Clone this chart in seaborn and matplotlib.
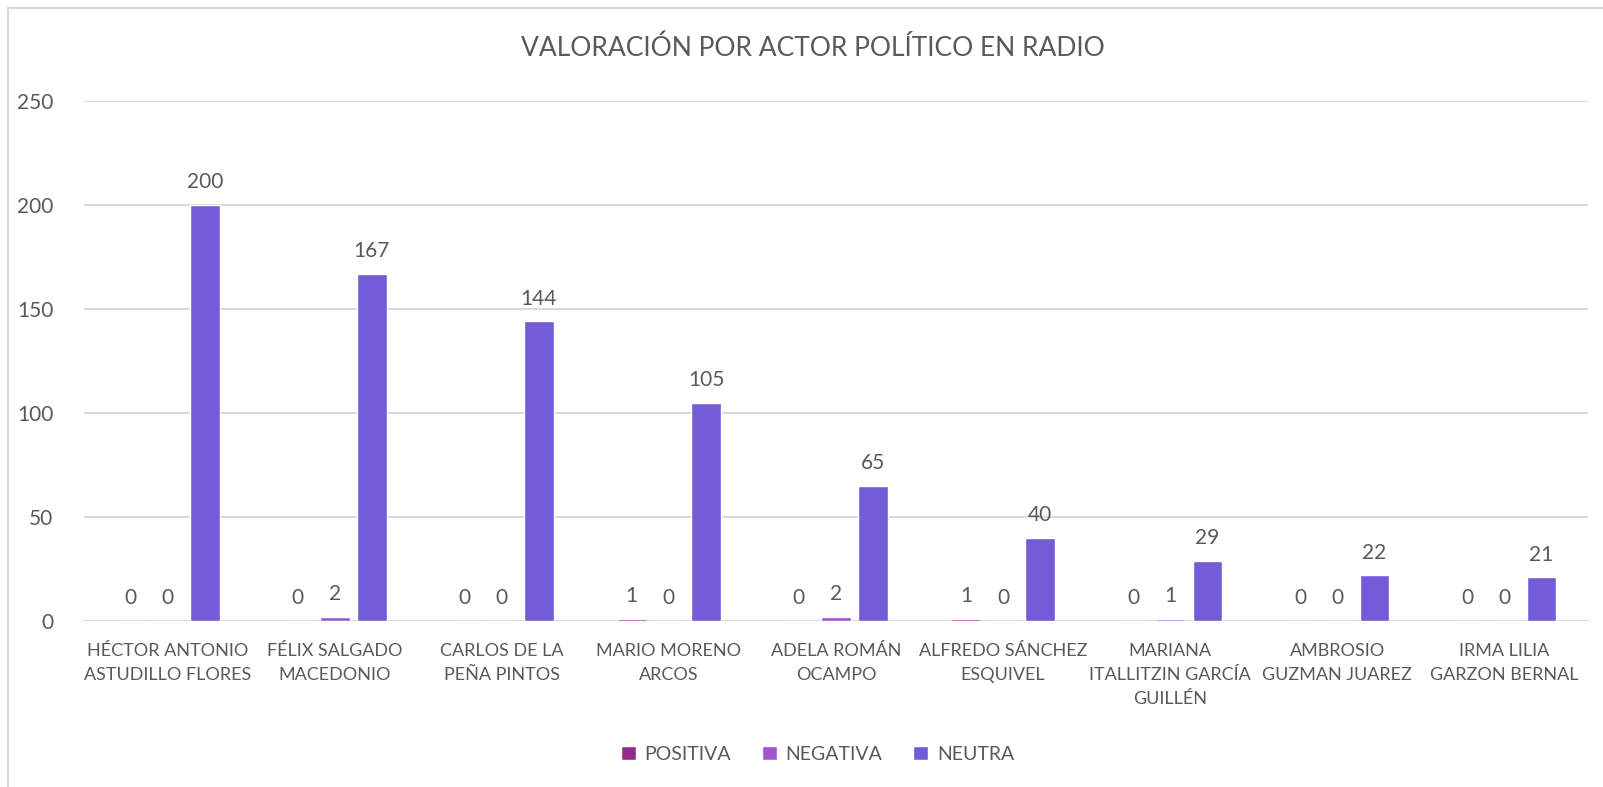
import pandas as pd
import seaborn as sns
import matplotlib.pyplot as plt
from matplotlib.lines import Line2D

# Chart data
actores = [
    "HÉCTOR ANTONIO\nASTUDILLO FLORES",
    "FÉLIX SALGADO\nMACEDONIO",
    "CARLOS DE LA\nPEÑA PINTOS",
    "MARIO MORENO\nARCOS",
    "ADELA ROMÁN\nOCAMPO",
    "ALFREDO SÁNCHEZ\nESQUIVEL",
    "MARIANA\nITALLITZIN GARCÍA\nGUILLÉN",
    "AMBROSIO\nGUZMAN JUAREZ",
    "IRMA LILIA\nGARZON BERNAL",
]
positiva = [0, 0, 0, 1, 0, 1, 0, 0, 0]
negativa = [0, 2, 0, 0, 2, 0, 1, 0, 0]
neutra = [200, 167, 144, 105, 65, 40, 29, 22, 21]
series = ["POSITIVA", "NEGATIVA", "NEUTRA"]
colores = ["#962A8B", "#A055D5", "#745CD8"]

df = pd.DataFrame({"actor": actores, "POSITIVA": positiva,
                   "NEGATIVA": negativa, "NEUTRA": neutra})
df = df.melt(id_vars="actor", var_name="valoracion", value_name="valor")

sns.set_style("white")
plt.rcParams["font.family"] = ["Lato", "DejaVu Sans"]
gris = "#595959"

fig = plt.figure(figsize=(16.03, 7.87), dpi=100)
ax = fig.add_axes([84 / 1603, 1 - 621 / 787, (1588 - 84) / 1603, 520 / 787])

sns.barplot(data=df, x="actor", y="valor", hue="valoracion", hue_order=series,
            palette=colores, width=0.667, gap=0.2, saturation=1, ax=ax,
            legend=True)

for c in ax.containers:
    ax.bar_label(c, fmt="%d", padding=9, fontsize=15, color=gris)

ax.set_ylim(0, 250)
ax.set_xlim(-0.5, len(actores) - 0.5)
ax.set_yticks(range(0, 251, 50))
ax.yaxis.grid(True, color="#D9D9D9", linewidth=1.5)
ax.set_axisbelow(True)
for s in ax.spines.values():
    s.set_visible(False)
ax.set_xlabel("")
ax.set_ylabel("")
ax.tick_params(axis="both", length=0, labelcolor=gris)
ax.tick_params(axis="y", pad=22, labelsize=15)
ax.tick_params(axis="x", pad=16, labelsize=13)
for lbl in ax.get_yticklabels():
    lbl.set_horizontalalignment("right")
for lbl in ax.get_xticklabels():
    lbl.set_linespacing(1.6)

fig.text(0.507, 1 - 48 / 787, "VALORACIÓN POR ACTOR POLÍTICO EN RADIO",
         ha="center", va="center", fontsize=19, color=gris)

ax.legend(loc="center", bbox_to_anchor=(0.51, 1 - 754 / 787),
          bbox_transform=fig.transFigure, ncol=3, frameon=False,
          fontsize=14, labelcolor=gris, handlelength=0.75, handleheight=0.75,
          handletextpad=0.45, columnspacing=1.6)

# chart border
fig.add_artist(Line2D([8 / 1603, 8 / 1603], [0, 1 - 8 / 787], color="#D9D9D9", lw=1.5))
fig.add_artist(Line2D([8 / 1603, 1], [1 - 8 / 787, 1 - 8 / 787], color="#D9D9D9", lw=1.5))

fig.savefig("out.png", dpi=100)
